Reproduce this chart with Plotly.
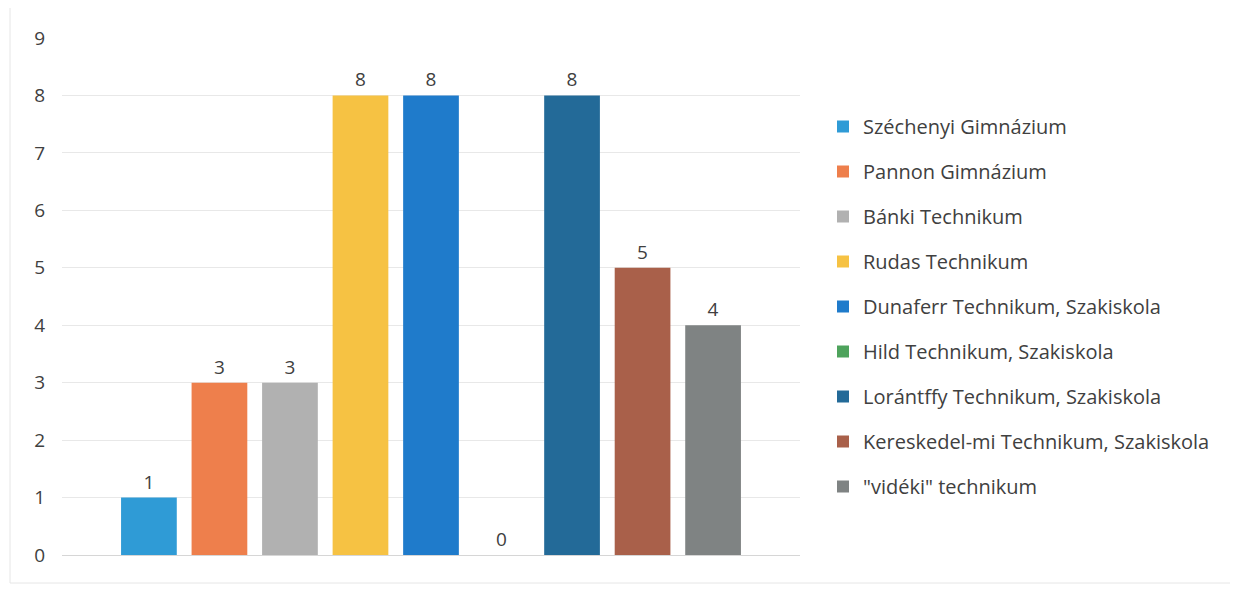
import plotly.graph_objects as go

schools = ["Széchenyi Gimnázium", "Pannon Gimnázium", "Bánki Technikum", "Rudas Technikum",
           "Dunaferr Technikum, Szakiskola", "Hild Technikum, Szakiskola",
           "Lorántffy Technikum, Szakiskola", "Kereskedel-mi Technikum, Szakiskola",
           "\"vidéki\" technikum"]
values = [1, 3, 3, 8, 8, 0, 8, 5, 4]
colors = ["#2f9bd6", "#ee7f4c", "#b1b1b1", "#f6c243", "#1f7bcb", "#4ea35c",
          "#236a98", "#a9604a", "#7f8383"]
y_ticks = list(range(0, 10))

W, H = 1238, 589
OFF = 8  # page body margin
L, R, T, B = 62 - OFF, 800 - OFF, 38 - OFF, 555 - OFF

fig = go.Figure()
for i, (s, v, c) in enumerate(zip(schools, values, colors)):
    fig.add_trace(go.Bar(
        x=[""], y=[v], name=s, marker=dict(color=c, line=dict(width=0)),
        text=[str(v)], textposition="outside", cliponaxis=False,
        textfont=dict(size=19, color="#404040", family="Open Sans"),
        legendgroup=f"g{i}",
    ))

fig.update_layout(
    width=W, height=H,
    margin=dict(l=L, r=W - R, t=T, b=H - B),
    paper_bgcolor="white", plot_bgcolor="white",
    barmode="group", bargap=0.14, bargroupgap=0.21,
    font=dict(family="Open Sans", color="#404040"),
    showlegend=True,
    legend=dict(
        x=(823 - OFF - L) / (R - L), y=1 - (107 - OFF - T) / (B - T),
        xanchor="left", yanchor="top",
        traceorder="grouped", tracegroupgap=16, itemwidth=30,
        font=dict(size=20, color="#404040", family="Open Sans"),
        bgcolor="rgba(0,0,0,0)",
    ),
    xaxis=dict(showticklabels=False, showgrid=False, zeroline=False, showline=False),
    yaxis=dict(range=[0, 9], tickvals=y_ticks, showgrid=True, gridcolor="#e8e8e8",
               gridwidth=1, zeroline=True, zerolinecolor="#d6d6d6", zerolinewidth=1,
               showline=False, ticklabelstandoff=16,
               tickfont=dict(size=19, color="#404040", family="Open Sans")),
    shapes=[dict(type="rect", xref="paper", yref="paper",
                 x0=(10 - OFF - L) / (R - L), x1=(1236 - OFF - L) / (R - L),
                 y0=-(583 - 555) / (B - T), y1=1 + (38 - 6) / (B - T),
                 line=dict(color="#e6e6e6", width=1))],
)

fig.write_html("out.html")
